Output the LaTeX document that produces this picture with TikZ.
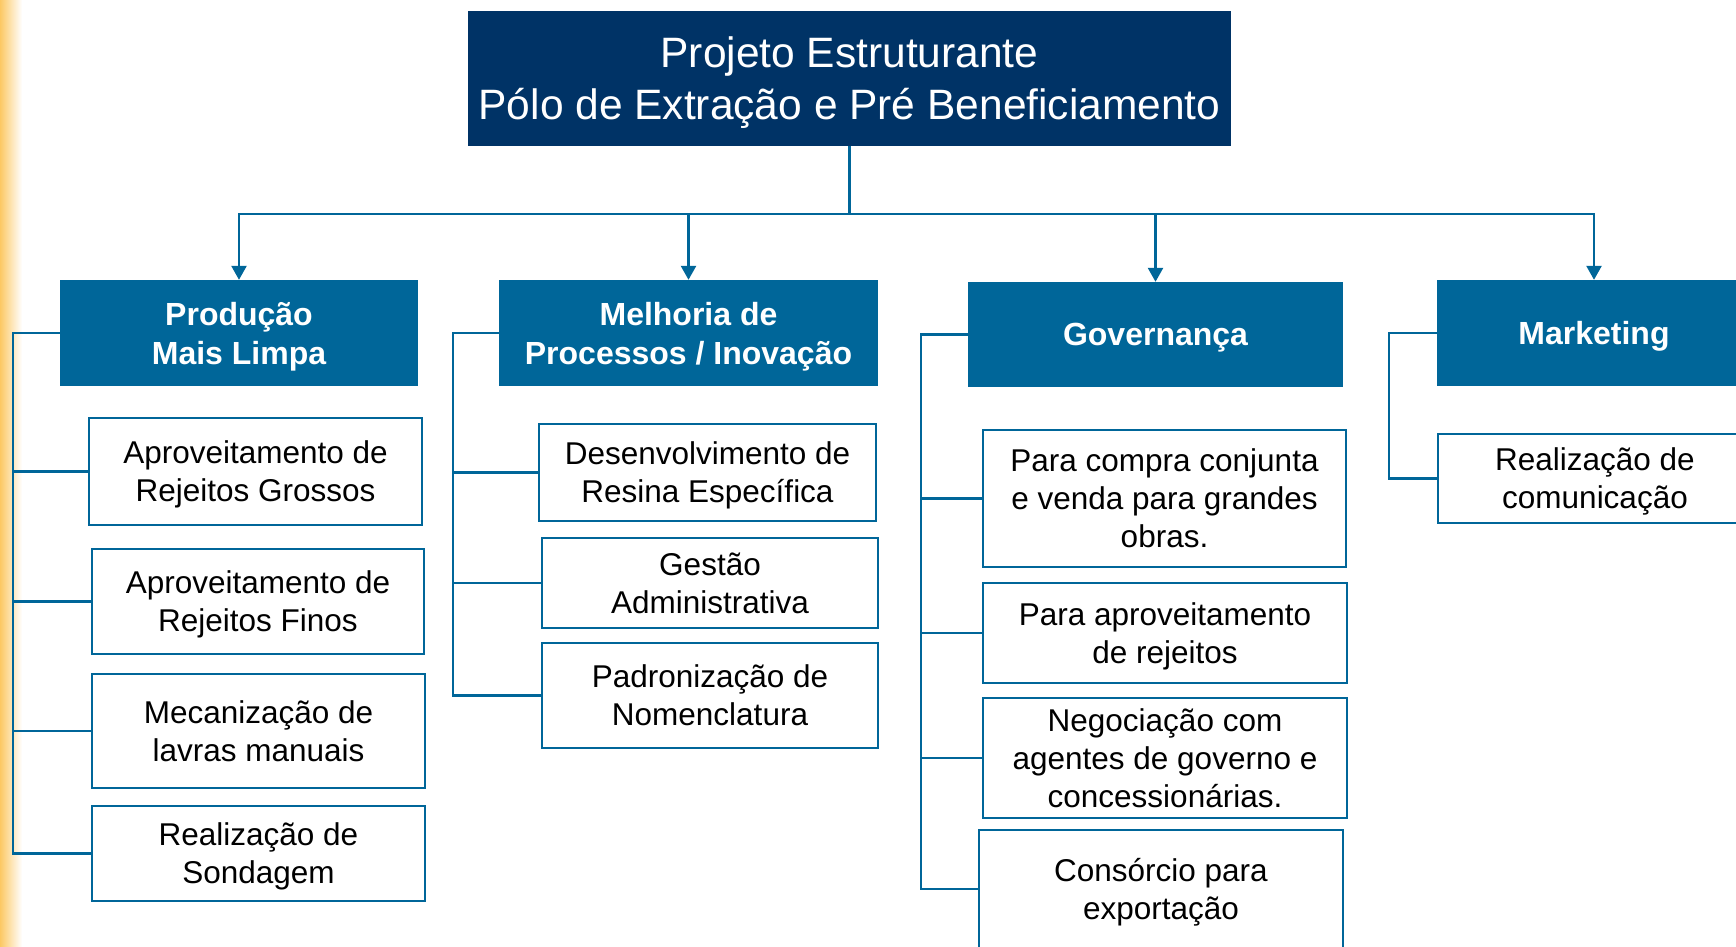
\documentclass[tikz,border=0pt]{standalone}
\usepackage{fontspec}
\setmainfont{Liberation Sans}
\usetikzlibrary{arrows.meta}
\definecolor{navy}{RGB}{0,51,102}
\definecolor{steel}{RGB}{0,102,153}
\definecolor{glow}{RGB}{252,200,100}

\begin{document}
\begin{tikzpicture}[
  x=1pt, y=-1pt,
  head/.style={fill=navy, text=white, align=center, inner sep=0pt,
    text depth=0pt, font=\fontsize{42.5}{52}\selectfont},
  cat/.style={fill=steel, text=white, align=center, inner sep=0pt,
    text depth=0pt, font=\fontsize{32}{39}\selectfont\bfseries},
  item/.style={draw=steel, line width=2.5pt, fill=white, align=center,
    inner sep=0pt, text depth=0pt, font=\fontsize{31.5}{38}\selectfont},
  link/.style={draw=steel, line width=2.5pt},
  flow/.style={link, -{Triangle[length=14pt,width=15pt]}},
]
\useasboundingbox (0,0) rectangle (1736,946);
\clip (0,0) rectangle (1736,946);
\shade[left color=glow, right color=white] (0,0) rectangle (22,946);

% ---- the project ----------------------------------------------------------
\node[head, minimum width=763pt, minimum height=135pt] (top) at (849.5,78.5)
  {Projeto Estruturante\\Pólo de Extração e Pré Beneficiamento};

% ---- the four areas -------------------------------------------------------
\node[cat, minimum width=358pt, minimum height=106pt] (prod) at (239,333)
  {Produção\\Mais Limpa};
\node[cat, minimum width=379pt, minimum height=106pt] (melh) at (688.5,333)
  {Melhoria de\\Processos / Inovação};
\node[cat, minimum width=375pt, minimum height=105pt] (gov) at (1155.5,334.5)
  {Governança};
\node[cat, minimum width=314pt, minimum height=106pt] (mkt) at (1594,333)
  {Marketing};

\coordinate (bus) at (849.5,214);
\draw[link] (top.south) -- (bus);
\foreach \n in {prod,melh,gov,mkt}
  \draw[flow] (bus) -| (\n.north);

% ---- Producao Mais Limpa --------------------------------------------------
\node[item, minimum width=333pt, minimum height=107pt] (p1) at (255.5,471.5)
  {Aproveitamento de\\Rejeitos Grossos};
\node[item, minimum width=332pt, minimum height=105pt] (p2) at (258,601.5)
  {Aproveitamento de\\Rejeitos Finos};
\node[item, minimum width=333pt, minimum height=114pt] (p3) at (258.5,731)
  {Mecanização de\\lavras manuais};
\node[item, minimum width=333pt, minimum height=95pt] (p4) at (258.5,853.5)
  {Realização de\\Sondagem};
\foreach \c in {p1,p2,p3,p4}
  \draw[link] (prod.west) -- ++(-47,0) |- (\c.west);

% ---- Melhoria de Processos ------------------------------------------------
\node[item, minimum width=337pt, minimum height=97pt] (m1) at (707.5,472.5)
  {Desenvolvimento de\\Resina Específica};
\node[item, minimum width=336pt, minimum height=90pt] (m2) at (710,583)
  {Gestão\\Administrativa};
\node[item, minimum width=336pt, minimum height=105pt] (m3) at (710,695.5)
  {Padronização de\\Nomenclatura};
\foreach \c in {m1,m2,m3}
  \draw[link] (melh.west) -- ++(-46,0) |- (\c.west);

% ---- Governanca -----------------------------------------------------------
\node[item, minimum width=363pt, minimum height=137pt] (g1) at (1164.5,498.5)
  {Para compra conjunta\\e venda para grandes\\obras.};
\node[item, minimum width=364pt, minimum height=100pt] (g2) at (1165,633)
  {Para aproveitamento\\de rejeitos};
\node[item, minimum width=364pt, minimum height=120pt] (g3) at (1165,758)
  {Negociação com\\agentes de governo e\\concessionárias.};
\node[item, minimum width=364pt, minimum height=118pt] (g4) at (1161,889)
  {Consórcio para\\exportação};
\foreach \c in {g1,g2,g3,g4}
  \draw[link] (gov.west) -- ++(-47,0) |- (\c.west);

% ---- Marketing ------------------------------------------------------------
\node[item, minimum width=314pt, minimum height=89pt] (k1) at (1595,478.5)
  {Realização de\\comunicação};
\draw[link] (mkt.west) -- ++(-48,0) |- (k1.west);

\end{tikzpicture}
\end{document}
